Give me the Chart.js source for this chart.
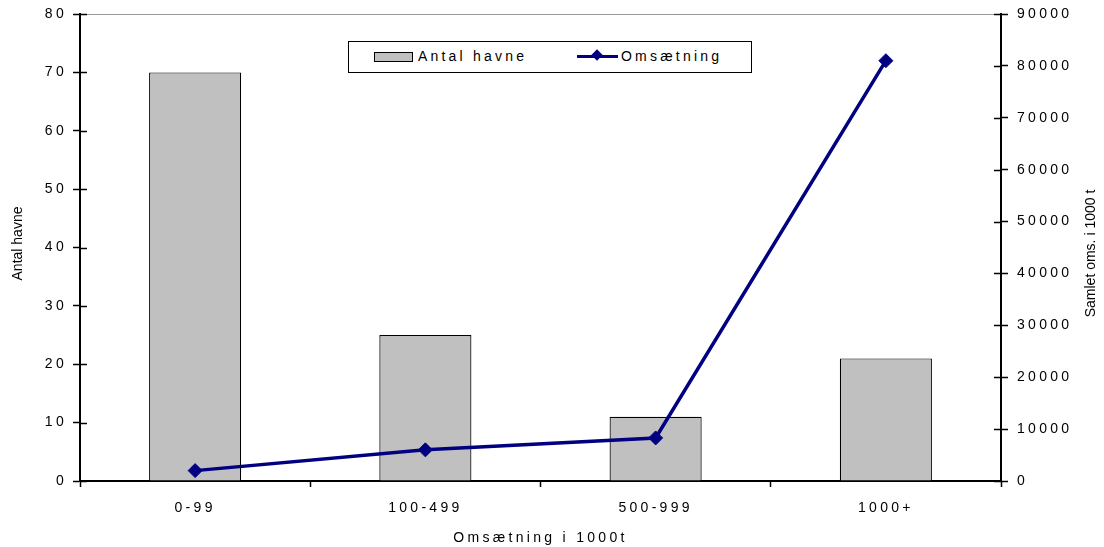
<!DOCTYPE html>
<html><head><meta charset="utf-8">
<script src="https://cdn.jsdelivr.net/npm/chart.js@4"></script>
<style>
html,body{margin:0;padding:0;background:#fff;}
#wrap{position:relative;width:1104px;height:547px;}
canvas{display:block;}
#legend{position:absolute;left:348px;top:41px;width:402px;height:30px;border:1.5px solid #000;background:#fff;
  font-family:"Liberation Sans",Arial,sans-serif;font-size:14px;letter-spacing:3.2px;color:#000;}
#legend .sw{position:absolute;left:25px;top:10px;width:37px;height:8px;background:#c0c0c0;border:1.5px solid #000;}
#legend .t1{position:absolute;left:69px;top:6px;}
#legend .ln{position:absolute;left:228px;top:13px;width:41px;height:3px;background:#000080;}
#legend .dm{position:absolute;left:244px;top:9px;width:8px;height:8px;background:#000080;transform:rotate(45deg);}
#legend .t2{position:absolute;left:272px;top:6px;}
</style>
</head><body>
<div id="wrap">
<canvas id="c" width="1104" height="547"></canvas>
<div id="legend"><div class="sw"></div><span class="t1">Antal havne</span><div class="ln"></div><div class="dm"></div><span class="t2">Omsætning</span></div>
</div>
<script>
const categories = ['0-99', '100-499', '500-999', '1000+'];
const antalHavne = [70, 25, 11, 21];
const omsaetning = [2000, 6000, 8300, 81000];
const leftMax = 80, leftStep = 10;
const rightMax = 90000, rightStep = 10000;
const xTitle = 'Omsætning i 1000t';
const leftTitle = 'Antal havne';
const rightTitle = 'Samlet oms. i 1000 t';

const FONT = '"Liberation Sans", Arial, sans-serif';
const tickFont = {family: FONT, size: 14};

const spacingPlugin = {
  id: 'spacing',
  beforeDraw(chart) { chart.ctx.letterSpacing = '3.3px'; },
  afterDraw(chart) {
    const ctx = chart.ctx;
    ctx.save();
    ctx.letterSpacing = '0px';
    ctx.strokeStyle = '#000'; ctx.lineWidth = 1.5;
    const y = chart.scales.y, y1 = chart.scales.y1;
    y.ticks.forEach(t => {
      const p = Math.round(y.getPixelForValue(t.value)) + 0.5;
      ctx.beginPath(); ctx.moveTo(y.right, p); ctx.lineTo(y.right + 7, p); ctx.stroke();
    });
    y1.ticks.forEach(t => {
      const p = Math.round(y1.getPixelForValue(t.value)) + 0.5;
      ctx.beginPath(); ctx.moveTo(y1.left - 7, p); ctx.lineTo(y1.left, p); ctx.stroke();
    });
    ctx.fillStyle = '#000';
    ctx.font = '14px ' + FONT;
    ctx.textAlign = 'center'; ctx.textBaseline = 'middle';
    const cy = (chart.chartArea.top + chart.chartArea.bottom) / 2;
    ctx.save(); ctx.translate(18, cy - 4); ctx.rotate(-Math.PI / 2); ctx.fillText(leftTitle, 0, 0); ctx.restore();
    ctx.save(); ctx.translate(1091, cy + 6); ctx.rotate(-Math.PI / 2); ctx.fillText(rightTitle, 0, 0); ctx.restore();
    ctx.restore();
  }
};

new Chart(document.getElementById('c'), {
  type: 'bar',
  data: {
    labels: categories,
    datasets: [
      {
        type: 'line', label: 'Omsætning', data: omsaetning, yAxisID: 'y1',
        borderColor: '#000080', backgroundColor: '#000080', borderWidth: 3.5,
        pointStyle: 'rectRot', pointRadius: 7, pointHoverRadius: 7,
        pointBackgroundColor: '#000080', pointBorderColor: '#000080', pointBorderWidth: 1,
        tension: 0, order: 0, fill: false
      },
      {
        type: 'bar', label: 'Antal havne', data: antalHavne, yAxisID: 'y',
        backgroundColor: '#c0c0c0', borderColor: '#000', borderWidth: 1.2,
        barPercentage: 0.4, categoryPercentage: 1, order: 1
      }
    ]
  },
  options: {
    responsive: false, animation: false,
    layout: {padding: {top: 14, left: 0, right: 0, bottom: 0}},
    plugins: {legend: {display: false}, tooltip: {enabled: false}},
    scales: {
      x: {
        grid: {offset: true, drawOnChartArea: false, drawTicks: true, tickLength: 6, tickColor: '#000', tickWidth: 1.5},
        border: {color: '#000', width: 2},
        ticks: {font: tickFont, color: '#000', padding: 13, maxRotation: 0},
        title: {display: true, text: xTitle, font: tickFont, color: '#000', padding: {top: 2, bottom: 0}},
        afterFit: s => { s.height = 66; s.paddingLeft = 0; s.paddingRight = 0; }
      },
      y: {
        position: 'left', min: 0, max: leftMax,
        ticks: {stepSize: leftStep, font: tickFont, color: '#000', padding: 6},
        grid: {color: c => (c.tick && c.tick.value === leftMax) ? '#999' : 'transparent', tickColor: '#000', tickLength: 7, tickWidth: 1.5, lineWidth: 1},
        border: {color: '#000', width: 2},
        afterFit: s => { s.width = 80; s.paddingTop = 0; s.paddingBottom = 0; }
      },
      y1: {
        position: 'right', min: 0, max: rightMax,
        ticks: {stepSize: rightStep, font: tickFont, color: '#000', padding: 9, callback: v => String(v)},
        grid: {drawOnChartArea: false, tickColor: '#000', tickLength: 7, tickWidth: 1.5},
        border: {color: '#000', width: 2},
        afterFit: s => { s.width = 103; s.paddingTop = 0; s.paddingBottom = 0; }
      }
    }
  },
  plugins: [spacingPlugin]
});
</script>
</body></html>
